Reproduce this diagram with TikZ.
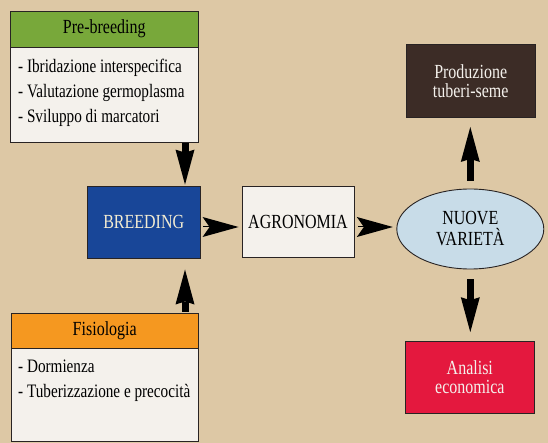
\documentclass[tikz,border=0pt]{standalone}
\usepackage{fontspec}
\setmainfont[FakeStretch=0.8]{Liberation Serif}
\usetikzlibrary{arrows.meta,shapes.geometric}
\definecolor{bg}{RGB}{221,200,165}
\definecolor{edge}{RGB}{40,35,35}
\definecolor{paper}{RGB}{244,241,236}
\definecolor{hgreen}{RGB}{120,168,58}
\definecolor{horange}{RGB}{245,152,32}
\definecolor{bblue}{RGB}{24,70,152}
\definecolor{cream}{RGB}{243,236,210}
\definecolor{bbrown}{RGB}{60,44,38}
\definecolor{bred}{RGB}{228,24,62}
\definecolor{lblue}{RGB}{200,220,232}
\begin{document}
\begin{tikzpicture}[x=1pt,y=-1pt,
  box/.style={draw=edge, line width=0.9pt, rectangle, inner sep=0pt, align=center,
    font=\fontsize{20}{19.5}\selectfont},
  listtext/.style={align=left, inner sep=0pt, anchor=north west,
    font=\fontsize{19}{25}\selectfont},
  vert/.style={line width=7pt, draw=black,
    -{Stealth[length=35pt,width=19pt,inset=3pt,line width=0pt]}},
  dart/.style={line width=1pt, draw=black,
    -{Stealth[length=36pt,width=20pt,inset=7pt,line width=0pt]}}]
\fill[bg] (0,0) rectangle (548,443);
\useasboundingbox (0,0) rectangle (548,443);

% Pre-breeding
\node[box, fill=hgreen, minimum width=188.5pt, minimum height=36pt] (prehead) at (104.25,29) {Pre-breeding};
\node[box, fill=paper, minimum width=188.5pt, minimum height=94.7pt, anchor=north] (prebody) at (prehead.south) {};
\node[listtext] (pretext) at (18,58.5) {- Ibridazione interspecifica\\- Valutazione germoplasma\\- Sviluppo di marcatori};

% Fisiologia
\node[box, fill=horange, minimum width=187.5pt, minimum height=35pt] (fishead) at (104.75,330.5) {Fisiologia};
\node[box, fill=paper, minimum width=187.5pt, minimum height=93pt, anchor=north] (fisbody) at (fishead.south) {};
\node[listtext] (fistext) at (18,360) {- Dormienza\\- Tuberizzazione e precocità};

% central row
\node[box, fill=bblue, text=cream, minimum width=112.6pt, minimum height=71.5pt] (breed) at (143.7,222.3) {BREEDING};
\node[box, fill=paper, minimum width=112pt, minimum height=71pt] (agro) at (298,222) {AGRONOMIA};
\node[draw=edge, line width=0.9pt, ellipse, fill=lblue, minimum width=147pt, minimum height=80pt,
  inner sep=0pt, align=center, font=\fontsize{20}{21}\selectfont] (nv) at (470.3,229) {NUOVE\\VARIETÀ};

% right boxes
\node[box, fill=bbrown, text=paper, minimum width=129.5pt, minimum height=73pt] (prod) at (470.7,81) {Produzione\\tuberi-seme};
\node[box, fill=bred, text=paper, minimum width=128.5pt, minimum height=71.3pt] (anal) at (469.8,377.3) {Analisi\\economica};

% connectors
\coordinate (ax) at (185,0);
\coordinate (row) at (0,227);
\draw[vert, shorten >=1.5pt] (ax |- prebody.south) -- (ax |- breed.north);
\draw[vert, shorten <=1pt, shorten >=11pt] (ax |- fishead.north) -- (ax |- breed.south);
\draw[dart, shorten <=3pt, shorten >=3pt] (breed.east |- row) -- (agro.west |- row);
\draw[dart, shorten <=4pt, shorten >=3.5pt] (agro.east |- row) -- (nv.west |- row);
\draw[vert, shorten <=8pt, shorten >=9pt] (nv.north) -- (nv.north |- prod.south);
\draw[vert, shorten <=10pt, shorten >=9pt] (nv.south) -- (nv.south |- anal.north);
\end{tikzpicture}
\end{document}
